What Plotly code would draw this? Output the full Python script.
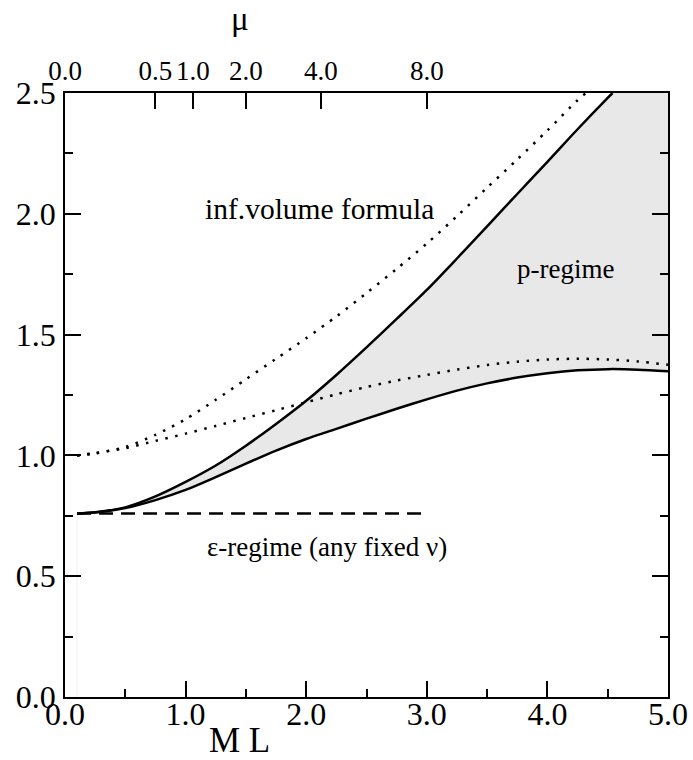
import plotly.graph_objects as go

# ---------------- data ----------------
X_MIN, X_MAX = 0.0, 5.0
Y_MIN, Y_MAX = 0.0, 2.5

# upper boundary of the p-regime (solid)
up_x = [0.1, 0.25, 0.5, 0.75, 1.0, 1.25, 1.5, 1.75, 2.0, 2.25, 2.5, 2.75, 3.0,
        3.25, 3.5, 3.75, 4.0, 4.25, 4.5, 4.54]
up_y = [0.76, 0.765, 0.785, 0.83, 0.89, 0.958, 1.04, 1.13, 1.226, 1.333,
        1.447, 1.565, 1.685, 1.815, 1.948, 2.082, 2.215, 2.35, 2.48, 2.5]

# lower boundary of the p-regime (solid)
lo_x = [0.1, 0.25, 0.5, 0.75, 1.0, 1.25, 1.5, 1.75, 2.0, 2.25, 2.5, 2.75, 3.0,
        3.25, 3.5, 3.75, 4.0, 4.25, 4.5, 4.75, 5.0]
lo_y = [0.76, 0.764, 0.782, 0.815, 0.857, 0.91, 0.966, 1.02, 1.068, 1.11,
        1.152, 1.193, 1.232, 1.268, 1.298, 1.322, 1.34, 1.352, 1.357, 1.355,
        1.348]

# infinite-volume formula, upper dotted curve
inf_up_x = [0.1, 0.25, 0.5, 0.75, 1.0, 1.25, 1.5, 1.75, 2.0, 2.25, 2.5, 2.75,
            3.0, 3.25, 3.5, 3.75, 4.0, 4.25, 4.32]
inf_up_y = [1.0, 1.008, 1.035, 1.085, 1.15, 1.23, 1.315, 1.40, 1.485, 1.575,
            1.672, 1.772, 1.877, 1.99, 2.108, 2.225, 2.345, 2.47, 2.5]

# infinite-volume formula, lower dotted curve
inf_lo_x = [0.1, 0.25, 0.5, 0.75, 1.0, 1.25, 1.5, 1.75, 2.0, 2.25, 2.5, 2.75,
            3.0, 3.25, 3.5, 3.75, 4.0, 4.25, 4.5, 4.75, 5.0]
inf_lo_y = [1.0, 1.01, 1.03, 1.06, 1.09, 1.122, 1.155, 1.187, 1.22, 1.253,
            1.283, 1.31, 1.333, 1.355, 1.374, 1.388, 1.397, 1.40, 1.397,
            1.389, 1.375]

# epsilon-regime level (dashed)
eps_x = [0.1, 3.0]
eps_y = [0.76, 0.76]

# axes ticks
x_ticks = [0, 1, 2, 3, 4, 5]
x_tick_text = ["0.0", "1.0", "2.0", "3.0", "4.0", "5.0"]
y_ticks = [0.0, 0.5, 1.0, 1.5, 2.0, 2.5]
y_tick_text = ["0.0", "0.5", "1.0", "1.5", "2.0", "2.5"]
mu_tick_pos = [0.0, 0.75, 1.061, 1.5, 2.121, 3.0]
mu_tick_text = ["0.0", "0.5", "1.0", "2.0", "4.0", "8.0"]

FONT = "Liberation Serif"

fig = go.Figure()

# shaded p-regime: lower boundary, then upper boundary filled down to it
fig.add_trace(go.Scatter(x=lo_x, y=lo_y, mode="lines",
                         line=dict(width=0, shape="spline", smoothing=0.8),
                         hoverinfo="skip", showlegend=False))
fig.add_trace(go.Scatter(x=up_x + [X_MAX], y=up_y + [Y_MAX], mode="lines",
                         fill="tonexty", fillcolor="#e8e8e8",
                         line=dict(width=0, shape="spline", smoothing=0.8),
                         hoverinfo="skip", showlegend=False))

# faint edge under the start point
fig.add_trace(go.Scatter(x=[eps_x[0], eps_x[0]], y=[Y_MIN, eps_y[0]],
                         mode="lines", line=dict(color="#f0f0f0", width=1),
                         hoverinfo="skip", showlegend=False))

dot = dict(color="black", width=2.5, dash="2.5px,7.5px", shape="spline",
           smoothing=0.8)
fig.add_trace(go.Scatter(x=inf_up_x, y=inf_up_y, mode="lines", line=dot,
                         showlegend=False))
fig.add_trace(go.Scatter(x=inf_lo_x, y=inf_lo_y, mode="lines", line=dot,
                         showlegend=False))

solid = dict(color="black", width=2.5, shape="spline", smoothing=0.8)
fig.add_trace(go.Scatter(x=up_x, y=up_y, mode="lines", line=solid,
                         showlegend=False))
fig.add_trace(go.Scatter(x=lo_x, y=lo_y, mode="lines", line=solid,
                         showlegend=False))

fig.add_trace(go.Scatter(x=eps_x, y=eps_y, mode="lines",
                         line=dict(color="black", width=2.5, dash="14px,8px"),
                         showlegend=False))

# invisible trace to activate the top axis
fig.add_trace(go.Scatter(x=[X_MIN, X_MAX], y=[Y_MIN, Y_MIN], xaxis="x2",
                         mode="markers", marker=dict(opacity=0),
                         hoverinfo="skip", showlegend=False))

axis_common = dict(showgrid=False, zeroline=False, showline=True,
                   linecolor="black", linewidth=1.5, ticks="inside",
                   ticklen=16, tickwidth=1.5, tickcolor="black",
                   automargin=False)

fig.update_layout(
    width=693, height=760,
    margin=dict(l=65, r=25, t=93, b=63, autoexpand=False),
    paper_bgcolor="white", plot_bgcolor="white",
    font=dict(family=FONT, color="black"),
    xaxis=dict(range=[X_MIN, X_MAX], tickvals=x_ticks, ticktext=x_tick_text,
               tickfont=dict(family=FONT, size=32), ticklabelstandoff=-12,
               minor=dict(dtick=0.5, ticklen=8, ticks="inside",
                          tickcolor="black", tickwidth=1.5, showgrid=False),
               **axis_common),
    yaxis=dict(range=[Y_MIN, Y_MAX], tickvals=y_ticks, ticktext=y_tick_text,
               tickfont=dict(family=FONT, size=32), mirror="ticks",
               ticklabelstandoff=1,
               minor=dict(dtick=0.25, ticklen=8, ticks="inside",
                          tickcolor="black", tickwidth=1.5, showgrid=False),
               **axis_common),
    xaxis2=dict(range=[X_MIN, X_MAX], overlaying="x", side="top",
                tickvals=mu_tick_pos, ticktext=mu_tick_text,
                tickfont=dict(family=FONT, size=27), **axis_common),
)

annotations = [
    dict(text="inf.volume formula", x=2.11, y=2.02, size=29.5),
    dict(text="p-regime", x=4.15, y=1.77, size=27),
    dict(text="ε-regime (any fixed ν)", x=2.17, y=0.62, size=27),
]
for a in annotations:
    fig.add_annotation(text=a["text"], x=a["x"], y=a["y"], xref="x", yref="y",
                       showarrow=False, font=dict(family=FONT, size=a["size"]),
                       xanchor="center", yanchor="middle")

fig.add_annotation(text="M L", xref="paper", yref="paper", x=0.29, y=-0.072,
                   showarrow=False, font=dict(family=FONT, size=35),
                   xanchor="center", yanchor="middle")
fig.add_annotation(text="μ", xref="paper", yref="paper", x=0.29, y=1.122,
                   showarrow=False, font=dict(family=FONT, size=33),
                   xanchor="center", yanchor="middle")

fig.write_html("out.html")
